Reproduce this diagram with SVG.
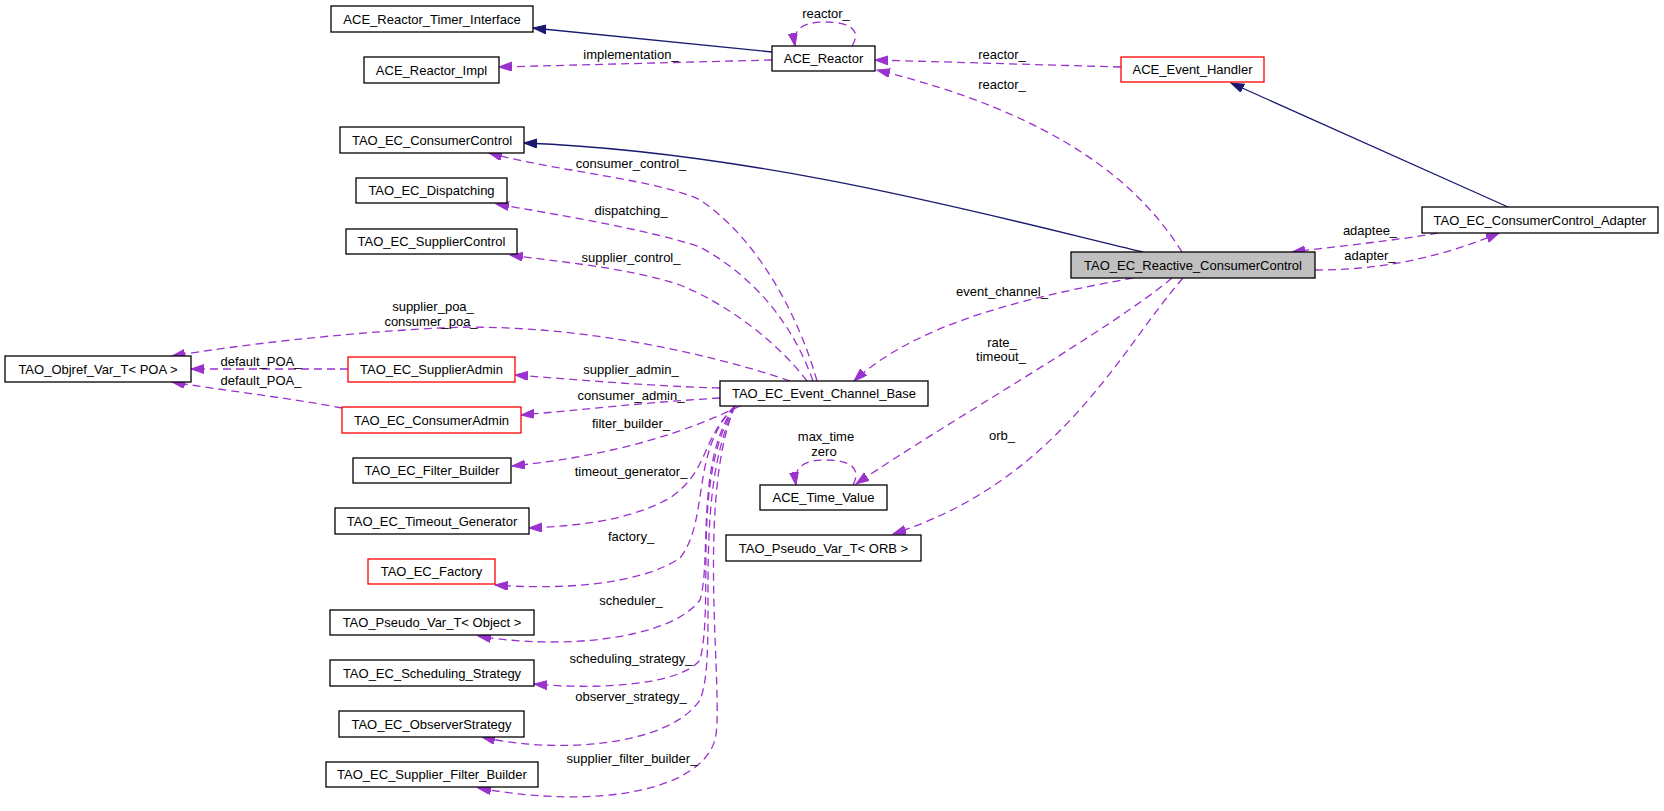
<svg xmlns="http://www.w3.org/2000/svg" width="1664" height="811" viewBox="0 0 1664 811">
<style>
text{font-family:"Liberation Sans",Arial,sans-serif;font-size:13px;fill:#000;text-anchor:middle}
.box{fill:#fff;stroke:#000;stroke-width:1.3}
.red{fill:#fff;stroke:#ff0000;stroke-width:1.3}
.main{fill:#bfbfbf;stroke:#000;stroke-width:1.3}
.inh{fill:none;stroke:#191970;stroke-width:1.3;marker-end:url(#ab)}
.use{fill:none;stroke:#9a32cd;stroke-width:1.3;stroke-dasharray:8,5;marker-end:url(#ap)}
</style>
<defs>
<marker id="ab" markerUnits="userSpaceOnUse" markerWidth="14" markerHeight="10" refX="13" refY="4.5" orient="auto"><path d="M0,0 L13,4.5 L0,9 z" fill="#191970" stroke="#191970"/></marker>
<marker id="ap" markerUnits="userSpaceOnUse" markerWidth="14" markerHeight="10" refX="13" refY="4.5" orient="auto"><path d="M0,0 L13,4.5 L0,9 z" fill="#9a32cd" stroke="#9a32cd"/></marker>
</defs>
<rect width="1664" height="811" fill="#fff"/>
<g id="edges">
<path class="inh" d="M772,52 L533,28"/>
<path class="inh" d="M1143,252 C1000,218 760,152 524,143"/>
<path class="inh" d="M1508,207 L1231,83"/>
<path class="use" d="M852,46 C862,30 850,22 825,22 C805,22 792,28 795,46"/>
<text x="826" y="18">reactor_</text>
<path class="use" d="M772,60 L499,67"/>
<text x="631" y="58.5">implementation_</text>
<path class="use" d="M1121,67 L875,60"/>
<text x="1002" y="58.5">reactor_</text>
<path class="use" d="M1182,252 C1140,185 1060,115 877,70"/>
<text x="1002" y="88.5">reactor_</text>
<path class="use" d="M817,381 C800,320 760,240 700,200 C660,180 560,172 489,153"/>
<text x="631" y="167.5">consumer_control_</text>
<path class="use" d="M813,381 C795,330 760,280 700,247 C650,230 560,215 496,204"/>
<text x="631" y="214.5">dispatching_</text>
<path class="use" d="M807,381 C780,345 730,305 680,285 C630,268 560,262 510,255"/>
<text x="631" y="261.5">supplier_control_</text>
<path class="use" d="M1133,278 C1040,295 920,320 854,381"/>
<text x="1002" y="296">event_channel_</text>
<path class="use" d="M1438,233 C1400,240 1340,246 1292,252"/>
<text x="1370" y="234.5">adaptee_</text>
<path class="use" d="M1315,270 C1380,270 1440,258 1499,233"/>
<text x="1370" y="260">adapter_</text>
<path class="use" d="M790,381 C700,350 560,322 440,328 C340,333 240,345 172,356"/>
<text x="433" y="311">supplier_poa_</text>
<text x="431" y="325.5">consumer_poa_</text>
<path class="use" d="M348,369 L191,369"/>
<text x="261" y="365.5">default_POA_</text>
<path class="use" d="M342,408 C290,398 220,390 172,382"/>
<text x="261" y="385">default_POA_</text>
<path class="use" d="M720,388 C650,386 580,380 515,375"/>
<text x="631" y="373.5">supplier_admin_</text>
<path class="use" d="M720,398 C650,402 580,410 521,415"/>
<text x="631" y="400">consumer_admin_</text>
<path class="use" d="M740,406 C690,430 620,455 512,466"/>
<text x="631" y="428">filter_builder_</text>
<path class="use" d="M735,406 C700,440 710,470 670,498 C630,520 580,526 529,528"/>
<text x="631" y="476">timeout_generator_</text>
<path class="use" d="M735,406 C690,450 710,520 680,558 C640,585 560,590 495,585"/>
<text x="631" y="541">factory_</text>
<path class="use" d="M735,406 C695,460 712,560 700,600 C670,640 560,650 478,636"/>
<text x="631" y="604.5">scheduler_</text>
<path class="use" d="M735,406 C690,480 715,600 700,660 C680,685 600,690 534,684"/>
<text x="631" y="663">scheduling_strategy_</text>
<path class="use" d="M735,406 C690,500 720,650 700,700 C670,745 560,755 482,737"/>
<text x="631" y="701">observer_strategy_</text>
<path class="use" d="M735,406 C695,500 725,700 715,740 C700,790 600,810 478,788"/>
<text x="632" y="763">supplier_filter_builder_</text>
<path class="use" d="M1172,278 C1110,330 950,420 856,484"/>
<text x="1002" y="347">rate_</text>
<text x="1001" y="361">timeout_</text>
<path class="use" d="M853,485 C862,468 850,460 826,460 C805,460 793,466 796,485"/>
<text x="826" y="441">max_time</text>
<text x="824" y="456">zero</text>
<path class="use" d="M1183,278 C1120,350 1060,480 893,534"/>
<text x="1002" y="440">orb_</text>
</g>
<g id="n_timer"><rect class="box" x="331" y="6" width="202" height="26"/><text x="432" y="23.5">ACE_Reactor_Timer_Interface</text></g>
<g id="n_impl"><rect class="box" x="364" y="57" width="135" height="26"/><text x="431.5" y="74.5">ACE_Reactor_Impl</text></g>
<g id="n_reactor"><rect class="box" x="772" y="46" width="103" height="25"/><text x="823.5" y="63">ACE_Reactor</text></g>
<g id="n_handler"><rect class="red" x="1121" y="57" width="143" height="25"/><text x="1192.5" y="74">ACE_Event_Handler</text></g>
<g id="n_cc"><rect class="box" x="340" y="127" width="184" height="26"/><text x="432" y="144.5">TAO_EC_ConsumerControl</text></g>
<g id="n_disp"><rect class="box" x="356" y="178" width="151" height="25"/><text x="431.5" y="195">TAO_EC_Dispatching</text></g>
<g id="n_sc"><rect class="box" x="346" y="229" width="171" height="25"/><text x="431.5" y="246">TAO_EC_SupplierControl</text></g>
<g id="n_objref"><rect class="box" x="5" y="356" width="186" height="26"/><text x="98" y="373.5">TAO_Objref_Var_T&lt; POA &gt;</text></g>
<g id="n_sa"><rect class="red" x="348" y="357" width="167" height="25"/><text x="431.5" y="374">TAO_EC_SupplierAdmin</text></g>
<g id="n_ca"><rect class="red" x="342" y="407" width="179" height="26"/><text x="431.5" y="424.5">TAO_EC_ConsumerAdmin</text></g>
<g id="n_fb"><rect class="box" x="353" y="458" width="158" height="25"/><text x="432" y="475">TAO_EC_Filter_Builder</text></g>
<g id="n_tg"><rect class="box" x="335" y="508" width="194" height="26"/><text x="432" y="525.5">TAO_EC_Timeout_Generator</text></g>
<g id="n_fac"><rect class="red" x="368" y="559" width="127" height="25"/><text x="431.5" y="576">TAO_EC_Factory</text></g>
<g id="n_pvo"><rect class="box" x="330" y="610" width="204" height="25"/><text x="432" y="627">TAO_Pseudo_Var_T&lt; Object &gt;</text></g>
<g id="n_ss"><rect class="box" x="330" y="660" width="204" height="26"/><text x="432" y="677.5">TAO_EC_Scheduling_Strategy</text></g>
<g id="n_os"><rect class="box" x="339" y="711" width="185" height="26"/><text x="431.5" y="728.5">TAO_EC_ObserverStrategy</text></g>
<g id="n_sfb"><rect class="box" x="326" y="762" width="212" height="25"/><text x="432" y="779">TAO_EC_Supplier_Filter_Builder</text></g>
<g id="n_ecb"><rect class="box" x="720" y="381" width="208" height="25"/><text x="824" y="398">TAO_EC_Event_Channel_Base</text></g>
<g id="n_tv"><rect class="box" x="760" y="485" width="127" height="25"/><text x="823.5" y="502">ACE_Time_Value</text></g>
<g id="n_orb"><rect class="box" x="726" y="535" width="195" height="26"/><text x="823.5" y="552.5">TAO_Pseudo_Var_T&lt; ORB &gt;</text></g>
<g id="n_rcc"><rect class="main" x="1071" y="252" width="244" height="26"/><text x="1193" y="269.5">TAO_EC_Reactive_ConsumerControl</text></g>
<g id="n_adapter"><rect class="box" x="1422" y="207" width="236" height="26"/><text x="1540" y="224.5">TAO_EC_ConsumerControl_Adapter</text></g>
</svg>
